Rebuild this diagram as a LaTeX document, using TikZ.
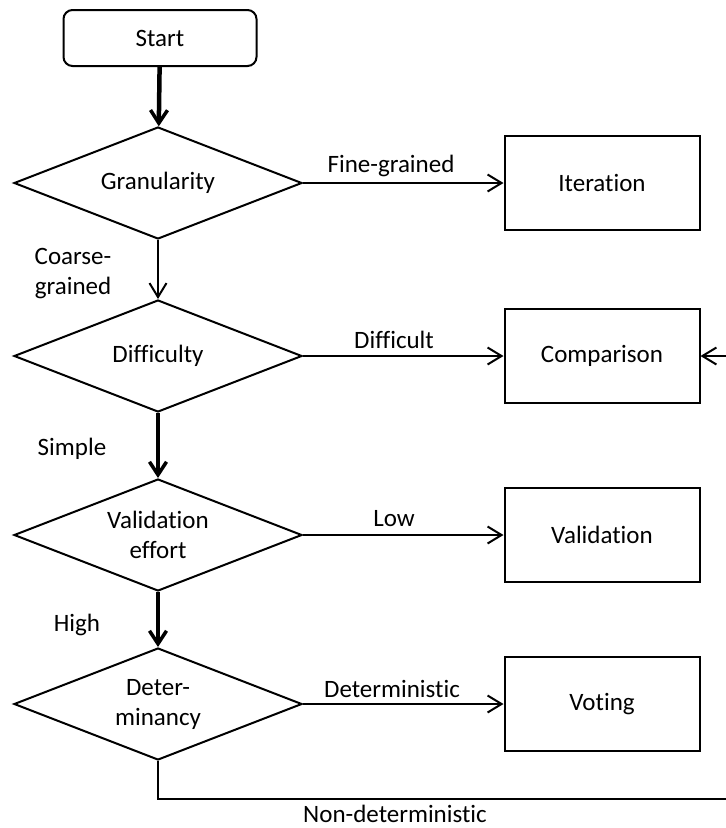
\documentclass[tikz,border=0pt]{standalone}
\usepackage{fontspec}
\setmainfont[RawFeature={-liga}]{Carlito}
\usetikzlibrary{shapes.geometric,arrows.meta}
\begin{document}
\begin{tikzpicture}[x=1pt,y=-1pt,
  every node/.style={font=\fontsize{25}{30}\selectfont, align=center},
  decision/.style={draw, diamond, aspect=2.5, minimum width=288pt,
    minimum height=112pt, inner sep=0pt, line width=2pt},
  outcome/.style={draw, rectangle, minimum width=195pt, minimum height=94pt,
    line width=2pt},
  startbox/.style={draw, rectangle, rounded corners=9pt, minimum width=193pt,
    minimum height=56pt, line width=2pt},
  flow/.style={line width=2pt,
    -{Straight Barb[length=14pt,width=17pt,line width=2pt]}},
  mainflow/.style={line width=4.5pt,
    -{Straight Barb[length=13pt,width=17pt,line width=3.5pt]}},
  plain/.style={line width=2pt}]
\useasboundingbox (0,0) rectangle (726,828);

% decisions
\node[startbox] (start) at (160,38) {Start};
\node[decision] (gran)  at (158,183) {Granularity};
\node[decision] (diff)  at (158,356) {Difficulty};
\node[decision] (valid) at (158,535) {Validation\\effort};
\node[decision] (det)   at (158,704) {Deter-\\minancy};

% resulting techniques
\node[outcome] (iter) at (602,183) {Iteration};
\node[outcome] (comp) at (602,356) {Comparison};
\node[outcome] (vali) at (602,535) {Validation};
\node[outcome] (vote) at (602,704) {Voting};

% main path downwards
\draw[mainflow] (start) -- (gran);
\draw[flow] (gran) -- (diff);
\draw[mainflow] (diff) -- (valid);
\draw[mainflow] (valid) -- (det);

% branches to the right
\draw[flow] (gran) -- (iter);
\draw[flow] (diff) -- (comp);
\draw[flow] (valid) -- (vali);
\draw[flow] (det) -- (vote);

% non-deterministic loop back to comparison
\coordinate (loopa) at (726,799);
\coordinate (loopb) at (726,356);
\draw[plain] (det.south) |- (loopa);
\draw[flow] (loopb) -- (comp);

% labels
\node (lfine)   at (391,166) {Fine-grained};
\node (lcoarse) at (73,274)  {Coarse-\\grained};
\node (ldiff)   at (394,340) {Difficult};
\node (lsimple) at (72,449)  {Simple};
\node (llow)    at (394,519) {Low};
\node (lhigh)   at (77,625)  {High};
\node (ldet)    at (392,689) {Deterministic};
\node (lnon)    at (395,814) {Non-deterministic};
\end{tikzpicture}
\end{document}
